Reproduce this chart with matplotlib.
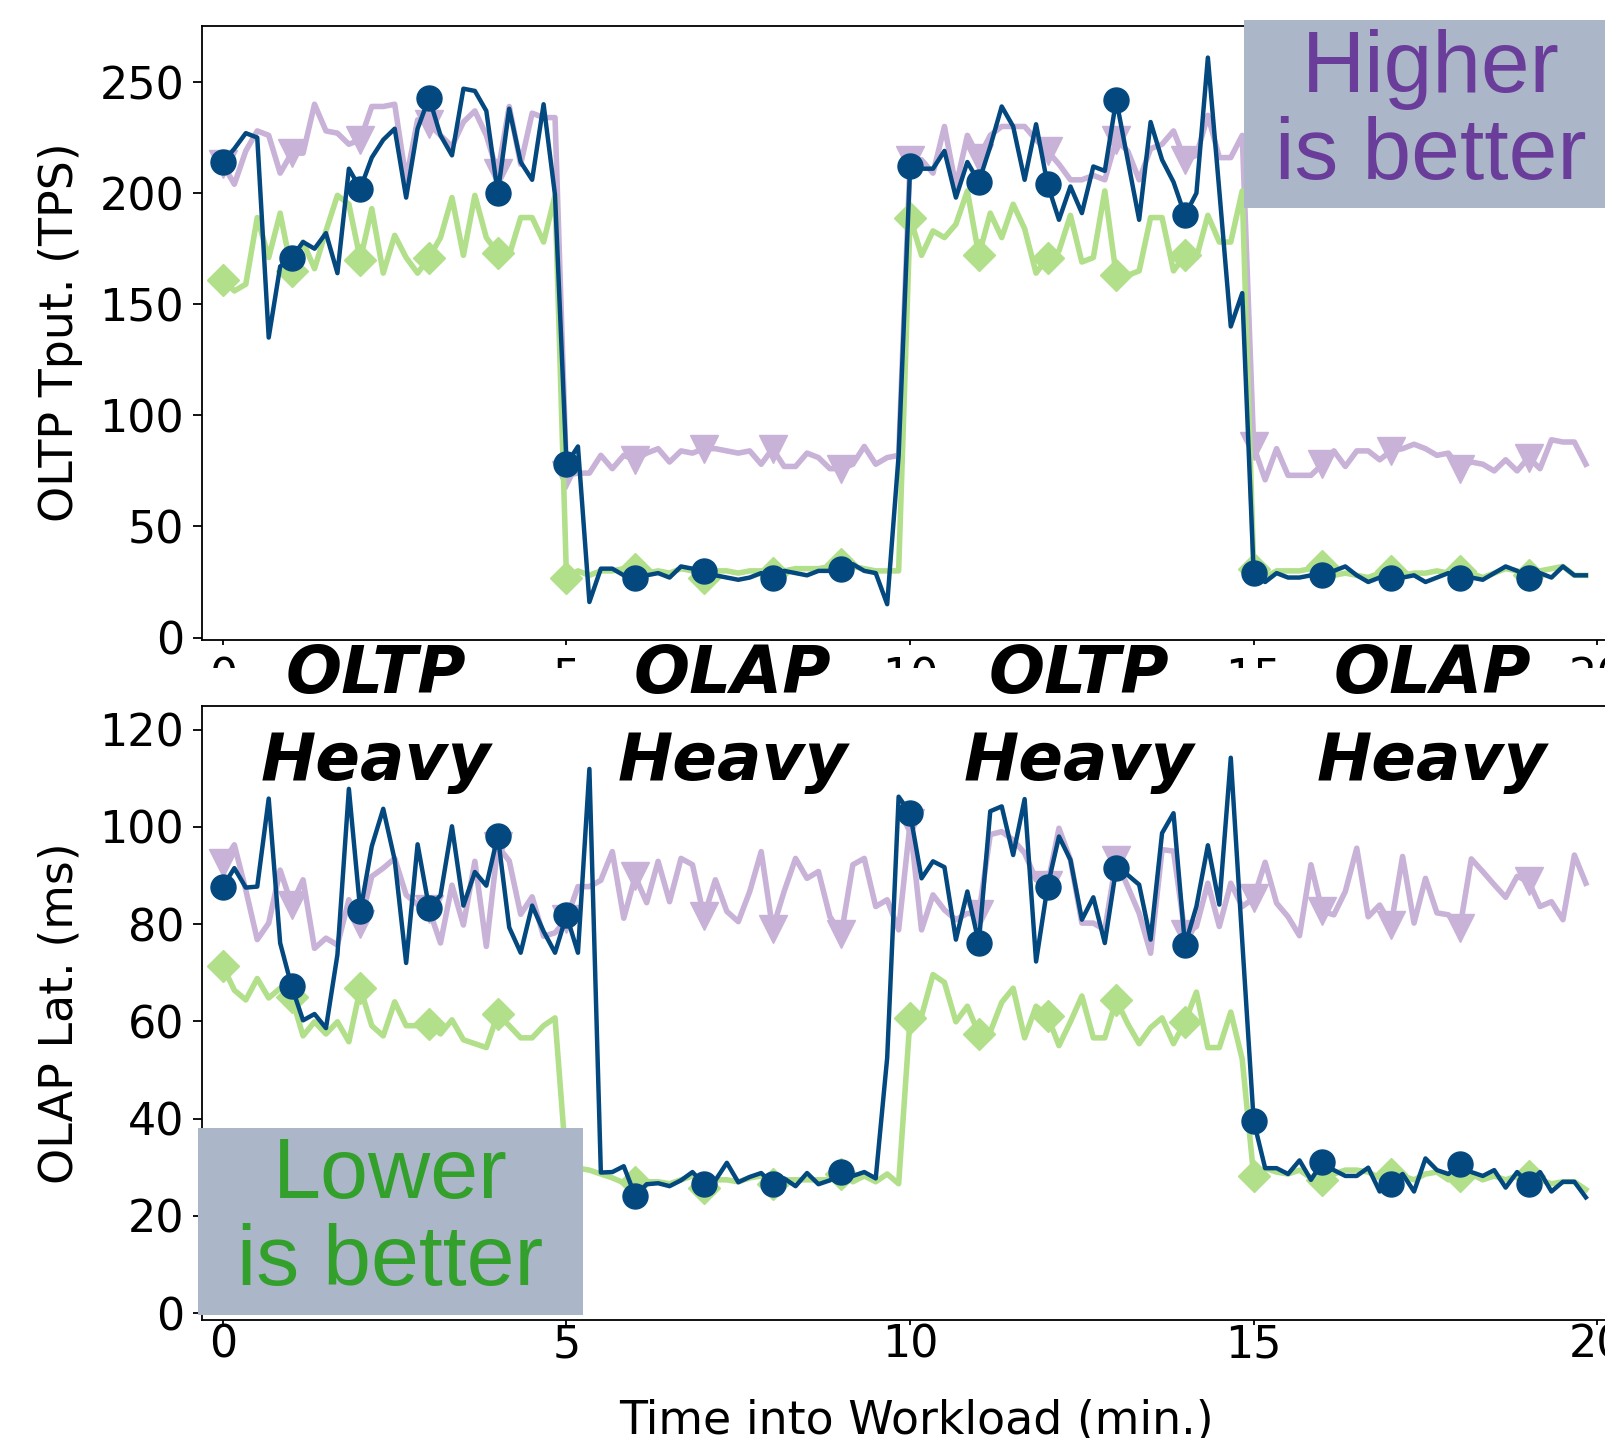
import numpy as np
import matplotlib
matplotlib.use("Agg")
import matplotlib.pyplot as plt
from matplotlib.patches import Rectangle
from matplotlib.transforms import blended_transform_factory

# one sample every 10 s over 20 minutes
t = np.arange(120) / 6.0

# OLTP throughput (TPS)
tput_purple = [213, 204, 219, 228, 226, 209, 218, 218, 240, 228, 227, 222, 224, 239, 239, 240, 206, 233, 231, 226,
               221, 232, 237, 226, 209, 239, 213, 236, 234, 234, 73, 74, 74, 82, 76, 82, 80, 83, 85, 79,
               84, 83, 85, 85, 84, 83, 84, 78, 85, 77, 77, 83, 81, 76, 76, 78, 86, 78, 81, 82,
               215, 215, 209, 230, 203, 226, 216, 226, 230, 230, 230, 224, 219, 213, 206, 206, 208, 206, 224, 219,
               206, 220, 222, 228, 215, 217, 235, 216, 216, 226, 86, 71, 85, 73, 73, 73, 78, 84, 77, 84,
               84, 80, 84, 85, 87, 85, 82, 83, 76, 79, 78, 75, 80, 75, 81, 76, 89, 88, 88, 78]
tput_green = [161, 156, 159, 189, 171, 191, 165, 178, 166, 183, 199, 195, 170, 193, 164, 181, 171, 164, 171, 180,
              198, 172, 199, 180, 173, 172, 189, 189, 178, 199, 27, 30, 28, 30, 30, 31, 31, 29, 30, 29,
              31, 30, 27, 30, 30, 29, 30, 30, 29, 30, 31, 31, 31, 32, 33, 32, 31, 30, 30, 30,
              189, 172, 183, 180, 186, 201, 172, 191, 180, 195, 184, 164, 171, 174, 190, 169, 171, 201, 163, 163,
              165, 189, 189, 165, 172, 171, 190, 178, 178, 201, 31, 27, 30, 30, 30, 31, 32, 28, 29, 28,
              27, 29, 30, 28, 29, 29, 30, 29, 30, 29, 27, 29, 31, 30, 28, 30, 31, 32, 28, 28]
tput_blue = [214, 220, 227, 225, 135, 167, 171, 178, 175, 182, 164, 211, 202, 216, 224, 229, 198, 229, 243, 226,
             217, 247, 246, 237, 200, 238, 214, 206, 240, 199, 78, 86, 16, 31, 31, 28, 27, 28, 29, 27,
             32, 31, 30, 28, 27, 26, 27, 29, 27, 30, 29, 28, 30, 30, 31, 33, 30, 29, 15, 82,
             212, 211, 211, 219, 198, 214, 205, 221, 239, 230, 206, 231, 204, 188, 203, 191, 212, 210, 242, 215,
             188, 232, 215, 205, 190, 200, 261, 201, 140, 155, 29, 25, 29, 27, 27, 28, 28, 30, 32, 28,
             25, 27, 27, 27, 28, 25, 27, 29, 27, 27, 26, 29, 32, 30, 27, 29, 27, 32, 28, 28]

# OLAP latency (ms)
lat_purple = [92.5, 96.3, 87, 76.8, 80.2, 91.1, 84, 89.1, 75, 77.1, 75.7, 85, 80, 89.8, 91.5, 93.5, 86, 84, 83, 76.1,
              88, 79.8, 92.9, 75.4, 96, 93, 82, 85.6, 77.5, 78.2, 81, 87.7, 87.7, 89, 94.9, 81.2, 89.8, 84.4, 92.9, 84.6,
              93.5, 92.2, 81.6, 89.1, 82.6, 80.5, 86.7, 94.9, 79, 86.7, 93.5, 89.4, 90.8, 81.5, 78, 92.2, 93.5, 83.6, 85, 78.8,
              100.7, 78.8, 86, 82.9, 80.9, 82.2, 82, 98.4, 99, 97.3, 94.6, 89.1, 88.1, 99.7, 93.2, 80.2, 80.2, 78.8, 93.2, 87.7,
              82.2, 74, 95.3, 95, 78, 79.5, 88.4, 79.5, 88.4, 83.6, 85.3, 92.7, 84.3, 81.5, 77.6, 92.2, 82.6, 81.9, 86.7, 95.6,
              81.5, 83.9, 79.8, 93.9, 80.2, 89.4, 82.3, 81.9, 79.1, 93.4, 90.8, 88.1, 85.5, 89.8, 88.8, 83.6, 84.6, 80.9, 94.2, 88.4]
lat_green = [71.3, 66.4, 64.4, 68.8, 64.8, 66.8, 65, 57, 59.9, 57.4, 59.9, 55.8, 66.8, 59.1, 57, 64, 59.1, 59.1, 59.5, 57.4,
             60.3, 56.2, 55.4, 54.6, 61.5, 59.1, 56.6, 56.6, 59.1, 60.7, 30, 29.8, 29.4, 28.6, 27.8, 26.8, 27, 27, 27, 26.6,
             27.4, 28.2, 25.8, 27.4, 27.4, 27, 27.8, 28.2, 26.6, 27.4, 27.4, 27.4, 27.4, 27.4, 28.6, 27, 28.2, 27, 28.6, 26.6,
             60.7, 61.1, 69.6, 68, 59.9, 63.1, 57.4, 57.8, 63.9, 66.8, 56.6, 63.1, 61.1, 55, 59.9, 65.2, 56.6, 56.6, 64.4, 59.5,
             55.4, 58.7, 60.7, 55.4, 59.9, 66, 54.6, 54.6, 61.9, 52.2, 28.2, 29.8, 29, 28.6, 29.4, 27.8, 27.4, 28.6, 29.4, 29.4,
             29, 27.8, 28.6, 28.2, 27.4, 28.6, 29, 27.4, 28.2, 28.6, 27.4, 28.2, 27.4, 28.2, 28.2, 27.4, 26.6, 27, 27, 25.4]
lat_blue = [87.7, 91.5, 87.5, 87.7, 105.8, 76.1, 67.2, 60.2, 61.5, 58.6, 73.7, 107.8, 82.6, 96, 103.7, 93.2, 72, 96.4, 83.4, 85.9,
            100.1, 83.8, 90.7, 87.9, 98.2, 79.3, 74.1, 83.8, 78.5, 74.1, 81.8, 74.1, 111.9, 28.9, 29, 30.2, 24.1, 26.5, 26.7, 26.1,
            27.3, 29, 26.5, 27.3, 30.9, 26.9, 28, 28.8, 26.5, 27.7, 26.1, 28.8, 26.5, 27.3, 29, 28.2, 29, 27.7, 52.5, 106.2,
            102.8, 89.4, 92.9, 91.7, 76.8, 86.7, 76.1, 103.2, 104.2, 94.2, 105.7, 72.3, 87.7, 98, 93.2, 80.9, 85.5, 76.1, 91.5, 90.1,
            88.1, 76.8, 98.7, 102.8, 75.7, 83.6, 96.2, 84, 114.2, 76.5, 39.5, 29.8, 29.8, 28.6, 31.4, 27.4, 31, 29.4, 28.2, 28.2,
            29.9, 25, 26.6, 28.6, 25, 31.8, 29.4, 28.6, 30.6, 29, 28.2, 29.4, 25.8, 29, 26.6, 29, 25, 27, 27, 23.8]

phase_names = ["OLTP", "OLAP", "OLTP", "OLAP"]
phase_x = [2.22, 7.42, 12.45, 17.6]

purple = "#c8b2d8"
green = "#b2df8a"
blue = "#03487f"

plt.rcParams["font.size"] = 32
plt.rcParams["axes.linewidth"] = 1.3

fig = plt.figure(figsize=(16.05, 14.38), dpi=100)
ax1 = fig.add_axes([0.1256, 0.5551, 0.891, 0.4271])
ax2 = fig.add_axes([0.1256, 0.0818, 0.891, 0.4271])


def draw(ax, p, g, b):
    ax.plot(t, p, color=purple, lw=4, marker="v", ms=20, markevery=6)
    ax.plot(t, g, color=green, lw=4, marker="D", ms=16, markevery=6)
    ax.plot(t, b, color=blue, lw=3.2, marker="o", ms=18, markevery=6)
    ax.set_xlim(-0.31, 20.5)
    ax.set_xticks([0, 5, 10, 15, 20])
    ax.tick_params(axis="y", length=6.5, width=1.3, pad=6)
    ax.tick_params(axis="x", length=3.5, width=1.3)


draw(ax1, tput_purple, tput_green, tput_blue)
ax1.set_ylim(-1, 275.4)
ax1.set_yticks([0, 50, 100, 150, 200, 250])
ax1.set_ylabel("OLTP Tput. (TPS)", fontsize=33, labelpad=12)
ax1.tick_params(axis="x", pad=8.5)

draw(ax2, lat_purple, lat_green, lat_blue)
ax2.set_ylim(-1.5, 124.8)
ax2.set_yticks([0, 20, 40, 60, 80, 100, 120])
ax2.set_ylabel("OLAP Lat. (ms)", fontsize=33, labelpad=12)
ax2.tick_params(axis="x", pad=-1.5)
ax2.set_xlabel("Time into Workload (min.)", fontsize=33, labelpad=23)

# the upper tick labels are hidden behind the lower panel in the original
fig.add_artist(Rectangle((0, 1 - 704 / 1438), 1, 36 / 1438, transform=fig.transFigure,
                         facecolor="white", edgecolor="none", zorder=1))

# "higher / lower is better" boxes
box = "#abb6c9"
fig.add_artist(Rectangle((1244 / 1605, 1 - 208 / 1438), 361 / 1605, 188 / 1438,
                         transform=fig.transFigure, facecolor=box, edgecolor="none", zorder=2))
fig.text(1431 / 1605, 1 - 92 / 1438, "Higher", ha="center", va="baseline", fontsize=63,
         family="Liberation Sans", color="#6a3d9a", zorder=3)
fig.text(1431 / 1605, 1 - 179 / 1438, "is better", ha="center", va="baseline", fontsize=63,
         family="Liberation Sans", color="#6a3d9a", zorder=3)

fig.add_artist(Rectangle((198 / 1605, 1 - 1315 / 1438), 385 / 1605, 187 / 1438,
                         transform=fig.transFigure, facecolor=box, edgecolor="none", zorder=2))
fig.text(390 / 1605, 1 - 1198 / 1438, "Lower", ha="center", va="baseline", fontsize=62,
         family="Liberation Sans", color="#33a02c", zorder=3)
fig.text(390 / 1605, 1 - 1285 / 1438, "is better", ha="center", va="baseline", fontsize=62,
         family="Liberation Sans", color="#33a02c", zorder=3)

# phase labels between the panels
tr = blended_transform_factory(ax2.transData, fig.transFigure)
for name, x in zip(phase_names, phase_x):
    fig.text(x, 1 - 693 / 1438, name, transform=tr, ha="center", va="baseline",
             fontsize=47.5, fontweight="bold", fontstyle="italic", zorder=3)
    fig.text(x, 1 - 780 / 1438, "Heavy", transform=tr, ha="center", va="baseline",
             fontsize=47.5, fontweight="bold", fontstyle="italic", zorder=3)

fig.savefig("out.png", dpi=100)
